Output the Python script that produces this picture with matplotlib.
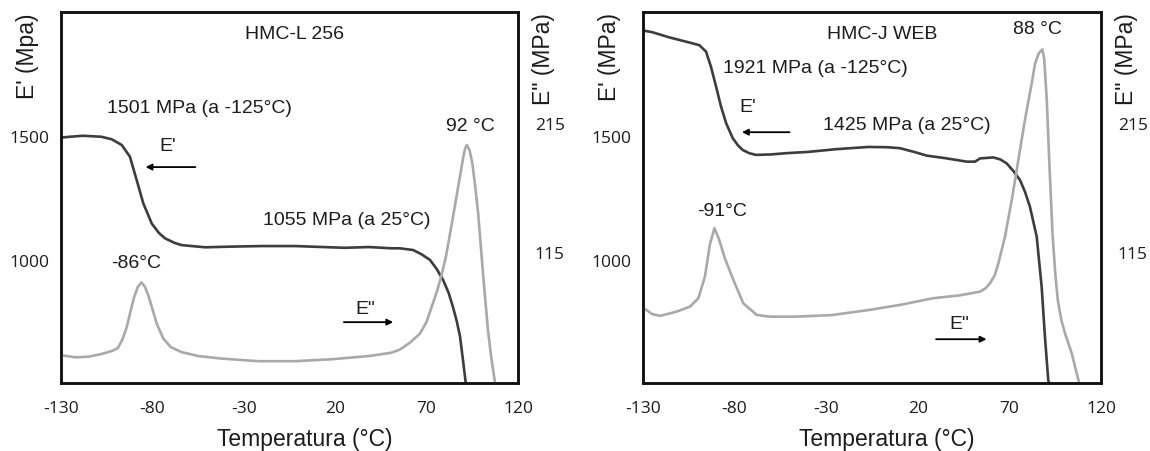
import matplotlib.pyplot as plt

plt.rcParams['font.family'] = ['Liberation Sans', 'DejaVu Sans']
plt.rcParams['axes.unicode_minus'] = False

# HMC-L 256: storage modulus E' (MPa) and loss modulus E'' (MPa) vs temperature (°C)
temp_l_storage = [-129.5, -125, -118, -108, -102.3, -96.8, -92.3, -88.6, -85.0, -80.4,
                  -76.5, -73.1, -68, -64.2, -51.2, -35, -20, -1.9, 25, 38.5,
                  50.6, 55.4, 62.6, 67.0, 71.9, 75.5, 79, 82, 84.4, 86.5,
                  88.3, 89.9, 91.4]
storage_l = [1498, 1501, 1505, 1501, 1491, 1468, 1421, 1327, 1234, 1153,
             1115, 1093, 1075, 1066, 1057, 1060, 1062, 1062, 1055, 1058,
             1053, 1053, 1046, 1030, 1006, 970, 926, 875, 818, 760,
             698, 604, 513]

temp_l_loss = [-129.5, -122, -115, -108, -102, -99, -96.5, -94, -92, -90,
               -88, -86, -84, -82, -80, -77.5, -74, -70, -64, -55,
               -42, -22, -2, 18, 38.5, 50.6, 55.4, 61, 66.4, 70,
               73.5, 76, 78.3, 80.5, 82.8, 85.5, 88.3, 90.1, 91.0, 92.0,
               93.5, 95.0, 96.5, 98.2, 101, 103.6, 105.5, 107.4]
loss_l = [36, 34.5, 35, 37, 39.5, 41.5, 48, 58, 70, 81,
          89, 92.5, 89, 81.5, 72, 60, 49, 42.5, 38.5, 35.5,
          33.5, 31.5, 31.5, 33, 35.5, 38, 40.5, 46, 53, 62,
          76.6, 87, 99, 112, 130, 152, 175, 190, 196, 199,
          195, 185, 168, 146, 97, 55, 33, 15]

# HMC-J WEB
temp_j_storage = [-129.5, -125, -115.6, -105, -99.3, -95.6, -92.9, -90.1, -87.4, -84.6,
                  -81.0, -78, -75.6, -72, -68.3, -60, -51.9, -40, -24.7, -7,
                  3, 10.3, 18, 25, 35, 46.7, 51.2, 54, 61.2, 65,
                  68.5, 72, 75.8, 78.5, 81.2, 84.9, 87.6, 89.4, 91.2, 91.6]
storage_j = [1927, 1921, 1900, 1880, 1869, 1843, 1782, 1702, 1622, 1555,
             1495, 1465, 1448, 1435, 1428, 1430, 1435, 1440, 1451, 1460,
             1459, 1455, 1440, 1425, 1415, 1401, 1401, 1414, 1418, 1410,
             1394, 1365, 1327, 1280, 1220, 1100, 899, 698, 524, 512]

temp_j_loss = [-129.5, -125, -120.7, -111.6, -104.3, -99.8, -96.2, -93.5, -91, -88.5,
               -85.5, -80.7, -75.3, -67.9, -60.7, -47, -27, -7, 10.3, 28.5,
               43, 51, 54, 57, 59.4, 62, 64, 67.6, 71.3, 74.9,
               78.5, 82.2, 84, 86, 88, 89, 90.4, 91.9, 93.5, 95,
               96.4, 98.4, 100.4, 104, 108]
loss_j = [72.5, 68, 66.6, 69.9, 73.8, 80.3, 97, 122, 134.5, 126,
          112, 94.5, 76.4, 67.3, 66, 66, 67.2, 71.1, 75.1, 80.3,
          82.5, 84.6, 85.4, 88, 91.9, 98, 107.4, 128, 156.5, 187.5,
          218.5, 246.9, 262, 270, 273, 266, 234, 182, 131, 100,
          79, 63, 53, 37.7, 15]

x_ticks = [-130, -80, -30, 20, 70, 120]
storage_ticks = [1000, 1500]
loss_ticks = [115, 215]

DARK = '#3d3d3d'
LIGHT = '#a9a9a9'
INK = '#1c1c1c'

fig = plt.figure(figsize=(11.5, 4.51), dpi=100)


def dma_panel(rect, t_st, st, t_lo, lo, storage_label):
    ax = fig.add_axes(rect)
    ax2 = ax.twinx()

    ax.plot(t_st, st, color=DARK, lw=1.9, solid_capstyle='butt', solid_joinstyle='round')
    ax2.plot(t_lo, lo, color=LIGHT, lw=1.9, solid_capstyle='butt', solid_joinstyle='round')

    ax.set_xlim(-130, 120)
    ax.set_ylim(512, 2002)
    ax2.set_ylim(14.6, 302)
    ax.set_xticks(x_ticks)
    ax.set_yticks(storage_ticks)
    ax2.set_yticks(loss_ticks)

    for a in (ax, ax2):
        for sp in a.spines.values():
            sp.set_linewidth(1.8)
            sp.set_color('#111111')
    ax.tick_params(axis='x', length=0, pad=13, labelsize=12.5,
                   labelcolor=INK, labelfontfamily='Open Sans')
    ax.tick_params(axis='y', length=0, pad=8, labelsize=12.5,
                   labelcolor=INK, labelfontfamily='Open Sans')
    ax2.tick_params(axis='y', length=0, pad=12, labelsize=12.5,
                    labelcolor=INK, labelfontfamily='Open Sans')

    ax.set_xlabel('Temperatura (°C)', fontsize=16.5, color=INK)
    ax.xaxis.set_label_coords(0.533, -0.151)
    ax.xaxis.label.set_va('center')

    ax.set_ylabel(storage_label, fontsize=16.5, color=INK)
    ax.yaxis.set_label_coords(-0.073, 0.88)
    ax.yaxis.label.set_va('center')

    ax2.set_ylabel('E" (MPa)', fontsize=16.5, color=INK)
    ax2.yaxis.set_label_coords(1.055, 0.872)
    ax2.yaxis.label.set_va('center')
    return ax


def note(ax, x, y, s):
    ax.text(x, y, s, transform=ax.transAxes, ha='center', va='center',
            fontsize=14, color=INK)


def arrow(ax, x_tail, x_head, y):
    ax.annotate('', xy=(x_head, y), xytext=(x_tail, y), xycoords='axes fraction',
                arrowprops=dict(arrowstyle='-|>', color='black', lw=1.3,
                                mutation_scale=9, shrinkA=0, shrinkB=0))


# left panel
ax_l = dma_panel([61 / 1150, 68 / 451, 457 / 1150, 371 / 451],
                 temp_l_storage, storage_l, temp_l_loss, loss_l, "E' (Mpa)")
note(ax_l, 0.512, 0.939, 'HMC-L 256')
note(ax_l, 0.302, 0.741, '1501 MPa (a -125°C)')
note(ax_l, 0.234, 0.638, "E'")
arrow(ax_l, 0.294, 0.185, 0.582)
note(ax_l, 0.625, 0.439, '1055 MPa (a 25°C)')
note(ax_l, 0.165, 0.323, '-86°C')
note(ax_l, 0.895, 0.691, '92 °C')
note(ax_l, 0.665, 0.199, 'E"')
arrow(ax_l, 0.619, 0.727, 0.164)

# right panel
ax_r = dma_panel([643 / 1150, 68 / 451, 458 / 1150, 371 / 451],
                 temp_j_storage, storage_j, temp_j_loss, loss_j, "E' (MPa)")
note(ax_r, 0.522, 0.939, 'HMC-J WEB')
note(ax_r, 0.861, 0.954, '88 °C')
note(ax_r, 0.376, 0.849, '1921 MPa (a -125°C)')
note(ax_r, 0.228, 0.743, "E'")
arrow(ax_r, 0.320, 0.216, 0.676)
note(ax_r, 0.575, 0.695, '1425 MPa (a 25°C)')
note(ax_r, 0.172, 0.462, '-91°C')
note(ax_r, 0.690, 0.159, 'E"')
arrow(ax_r, 0.640, 0.750, 0.118)

fig.savefig('out.png', dpi=100)
